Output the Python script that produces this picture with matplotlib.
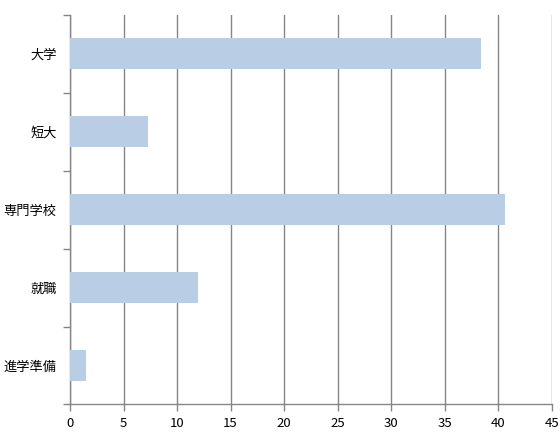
import matplotlib.pyplot as plt
import numpy as np

plt.rcParams['font.family'] = ['Noto Sans CJK JP', 'DejaVu Sans']

categories = ['大学', '短大', '専門学校', '就職', '進学準備']
values = [38.4, 7.3, 40.6, 12.0, 1.5]
xticks = [0, 5, 10, 15, 20, 25, 30, 35, 40, 45]

grey = '#868686'
fig = plt.figure(figsize=(5.6, 4.38), dpi=100)
ax = fig.add_axes([0.125, 0.0765, 0.86, 0.8899])

ypos = np.arange(len(categories))[::-1]
ax.barh(ypos, values, height=0.4, color='#B9CDE5', zorder=3)

ax.set_xlim(0, 45)
ax.set_ylim(-0.5, len(categories) - 0.5)
ax.set_xticks(xticks)
ax.set_xticklabels([str(t) for t in xticks], fontsize=9.5)
ax.set_yticks(ypos)
ax.set_yticklabels(categories, fontsize=9.5)
ax.set_yticks(np.arange(-0.5, len(categories), 1.0), minor=True)

ax.xaxis.grid(True, color=grey, linewidth=1.0, zorder=0)
ax.set_axisbelow(True)
for s in ['top', 'right']:
    ax.spines[s].set_visible(False)
for s in ['left', 'bottom']:
    ax.spines[s].set_color(grey)
    ax.spines[s].set_linewidth(1.0)

ax.tick_params(axis='y', which='major', length=0, pad=9.5)
ax.tick_params(axis='y', which='minor', length=5, color=grey, width=1.0)
ax.tick_params(axis='x', length=5, color=grey, width=1.0, pad=4)

fig.savefig('out.png', dpi=100)
